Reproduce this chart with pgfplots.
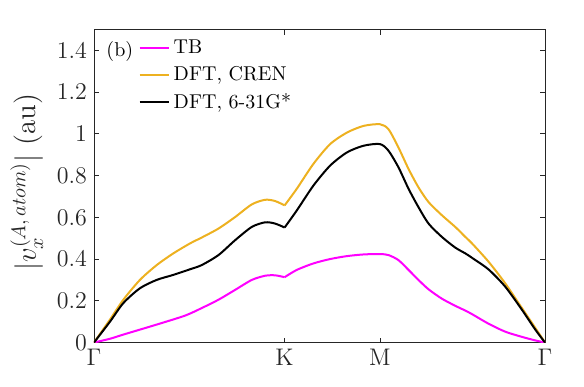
\documentclass[border=0pt]{standalone}
\usepackage{pgfplots}
\pgfplotsset{compat=1.18}

\definecolor{mlorange}{rgb}{0.929,0.694,0.125}
\definecolor{mlmagenta}{rgb}{1,0,1}
\definecolor{axgray}{rgb}{0.15,0.15,0.15}

\begin{document}
\begin{tikzpicture}
\begin{axis}[
    scale only axis,
    width=225.5pt, height=156.5pt,
    xmin=0, xmax=2.366,
    ymin=0, ymax=1.5,
    xtick={0,1,1.5,2.366},
    xticklabels={$\Gamma$,$\mathrm{K}$,$\mathrm{M}$,$\Gamma$},
    ytick={0,0.2,0.4,0.6,0.8,1,1.2,1.4},
    yticklabel style={/pgf/number format/fixed},
    major tick length=2.5pt,
    axis line style={axgray, line width=0.4pt},
    tick style={axgray, line width=0.4pt},
    ticklabel style={text=axgray},
    tick label style={font=\large},
    ylabel={$|v_x^{(A,\,atom)}|$ (au)},
    ylabel style={font=\Large, text=axgray, xshift=2pt},
    legend style={draw=none, fill=none, font=\normalsize,
        at={(0.085,0.995)}, anchor=north west,
        row sep=1pt, text=black},
    legend cell align=left,
    legend image code/.code={\draw[#1] (0pt,0pt) -- (14.5pt,0pt);},
    every axis plot/.append style={line width=1pt, line join=round, smooth, tension=0.45},
]

% TB
\addplot[color=mlmagenta] coordinates {
(0,0) (0.084,0.018) (0.154,0.038) (0.329,0.086) (0.478,0.129) (0.565,0.165)
(0.653,0.205) (0.74,0.252) (0.828,0.30) (0.898,0.32) (0.95,0.322) (1.0,0.313)
};
\addlegendentry{TB}
\addplot[color=mlmagenta, forget plot] coordinates {
(1.0,0.313) (1.064,0.348) (1.151,0.379) (1.239,0.40) (1.327,0.414) (1.414,0.422) (1.5,0.424)
(1.545,0.419) (1.597,0.395) (1.65,0.348) (1.702,0.30) (1.755,0.255) (1.825,0.21)
(1.895,0.176) (1.948,0.153) (1.983,0.136) (2.07,0.09) (2.157,0.052) (2.245,0.027)
(2.315,0.01) (2.366,0)
};

% DFT, CREN
\addplot[color=mlorange] coordinates {
(0,0) (0.084,0.11) (0.154,0.205) (0.241,0.30) (0.329,0.371) (0.416,0.427)
(0.504,0.475) (0.565,0.503) (0.653,0.546) (0.74,0.601) (0.828,0.662) (0.898,0.684)
(0.95,0.678) (1.0,0.657)
};
\addlegendentry{DFT, CREN}
\addplot[color=mlorange, forget plot] coordinates {
(1.0,0.657) (1.064,0.737) (1.151,0.856) (1.239,0.951) (1.327,1.006) (1.414,1.038) (1.5,1.046)
(1.545,1.022) (1.597,0.935) (1.65,0.832) (1.702,0.744) (1.755,0.673) (1.825,0.61)
(1.895,0.554) (1.948,0.506) (1.983,0.475) (2.07,0.387) (2.157,0.284) (2.245,0.165)
(2.315,0.07) (2.366,0)
};

% DFT, 6-31G*
\addplot[color=black] coordinates {
(0,0) (0.084,0.10) (0.154,0.189) (0.241,0.26) (0.329,0.30) (0.416,0.324)
(0.504,0.351) (0.565,0.371) (0.653,0.419) (0.74,0.49) (0.828,0.554) (0.898,0.576)
(0.95,0.57) (1.0,0.551)
};
\addlegendentry{DFT, 6-31G*}
\addplot[color=black, forget plot] coordinates {
(1.0,0.551) (1.064,0.633) (1.151,0.752) (1.239,0.848) (1.327,0.911) (1.414,0.943) (1.5,0.951)
(1.545,0.919) (1.597,0.84) (1.65,0.737) (1.702,0.649) (1.755,0.57) (1.825,0.506)
(1.895,0.455) (1.948,0.427) (1.983,0.406) (2.07,0.35) (2.157,0.268) (2.245,0.157)
(2.315,0.062) (2.366,0)
};

\node[anchor=west, font=\normalsize, text=black] at (rel axis cs:0.012,0.93) {(b)};
\end{axis}
\pgfresetboundingbox
\path ([shift={(-47pt,-22pt)}]current axis.south west)
  rectangle ([shift={(19.5pt,14.75pt)}]current axis.north east);
\end{tikzpicture}
\end{document}
